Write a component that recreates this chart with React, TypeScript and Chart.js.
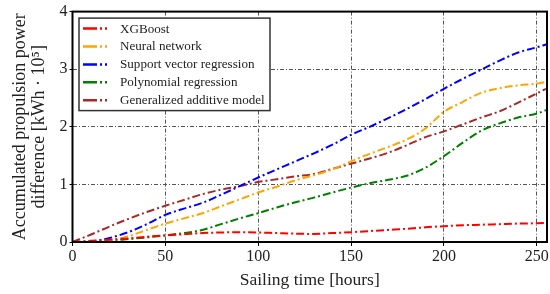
import { useEffect, useRef } from 'react';
import { Chart, registerables } from 'chart.js';

Chart.register(...registerables);

const hours = [0, 10, 20, 30, 40, 50, 60, 70, 80, 90, 100, 110, 120, 130, 140, 150, 160, 170, 180, 190, 200, 210, 220, 230, 240, 250, 255];

const xgboost = [0, 0.02, 0.04, 0.06, 0.09, 0.115, 0.135, 0.155, 0.165, 0.17, 0.165, 0.155, 0.145, 0.14, 0.155, 0.17, 0.19, 0.21, 0.23, 0.255, 0.275, 0.29, 0.3, 0.31, 0.32, 0.325, 0.33];
const neuralNetwork = [0, 0.005, 0.025, 0.1, 0.21, 0.32, 0.41, 0.5, 0.62, 0.74, 0.86, 0.96, 1.07, 1.16, 1.26, 1.4, 1.53, 1.65, 1.78, 1.97, 2.26, 2.43, 2.59, 2.67, 2.72, 2.75, 2.78];
const svr = [0, 0.01, 0.07, 0.17, 0.31, 0.47, 0.58, 0.68, 0.82, 0.97, 1.12, 1.26, 1.4, 1.54, 1.69, 1.86, 2.0, 2.15, 2.31, 2.48, 2.66, 2.83, 2.99, 3.15, 3.29, 3.38, 3.43];
const polynomial = [0, 0, 0.02, 0.05, 0.08, 0.115, 0.155, 0.21, 0.31, 0.41, 0.5, 0.6, 0.69, 0.77, 0.86, 0.945, 1.02, 1.08, 1.15, 1.29, 1.49, 1.72, 1.93, 2.06, 2.16, 2.23, 2.29];
const gam = [0, 0.13, 0.27, 0.4, 0.52, 0.63, 0.73, 0.83, 0.91, 0.97, 1.04, 1.09, 1.14, 1.18, 1.27, 1.36, 1.45, 1.55, 1.68, 1.82, 1.92, 2.04, 2.16, 2.27, 2.42, 2.58, 2.66];

const seriesNames = ['XGBoost', 'Neural network', 'Support vector regression', 'Polynomial regression', 'Generalized additive model'];
const seriesValues = [xgboost, neuralNetwork, svr, polynomial, gam];
const seriesColors = ['#ff0000', '#ffa500', '#0000ff', '#008000', '#a52a2a'];

const xTicks = [0, 50, 100, 150, 200, 250];
const yTicks = [0, 1, 2, 3, 4];

const FONT = "'Liberation Serif', 'Times New Roman', serif";

const frameLegendPlugin = {
  id: 'frameLegend',
  afterDatasetsDraw(chart: any) {
    const { ctx, chartArea } = chart;
    ctx.save();
    ctx.strokeStyle = '#000';
    ctx.lineWidth = 2;
    ctx.setLineDash([]);
    ctx.strokeRect(chartArea.left, chartArea.top, chartArea.right - chartArea.left, chartArea.bottom - chartArea.top);
    const x0 = chartArea.left + 6.5;
    const y0 = chartArea.top + 6.5;
    const w = 191;
    const h = 92.5;
    ctx.fillStyle = '#ffffff';
    ctx.fillRect(x0, y0, w, h);
    ctx.strokeStyle = '#333';
    ctx.lineWidth = 1.5;
    ctx.strokeRect(x0, y0, w, h);
    ctx.font = `13.1px ${FONT}`;
    ctx.textBaseline = 'middle';
    ctx.textAlign = 'left';
    chart.data.datasets.forEach((ds: any, i: number) => {
      const y = y0 + 10.5 + i * 17.9;
      ctx.strokeStyle = ds.borderColor;
      ctx.lineWidth = 2.5;
      ctx.setLineDash([14, 3, 2, 3, 2, 100]);
      ctx.beginPath();
      ctx.moveTo(x0 + 4, y);
      ctx.lineTo(x0 + 28, y);
      ctx.stroke();
      ctx.setLineDash([]);
      ctx.fillStyle = '#222';
      ctx.fillText(ds.label, x0 + 41, y + 0.5);
    });
    ctx.restore();
  },
};

export default function App() {
  const canvasRef = useRef<HTMLCanvasElement | null>(null);

  useEffect(() => {
    if (!canvasRef.current) return;
    const chart = new Chart(canvasRef.current, {
      type: 'line',
      data: {
        datasets: seriesNames.map((name, i) => ({
          label: name,
          data: hours.map((h, j) => ({ x: h, y: seriesValues[i][j] })),
          borderColor: seriesColors[i],
          backgroundColor: seriesColors[i],
          borderWidth: 2,
          borderDash: [8, 3, 2, 3],
          pointRadius: 0,
          cubicInterpolationMode: 'monotone',
          fill: false,
        })),
      },
      options: {
        animation: false,
        responsive: true,
        maintainAspectRatio: false,
        layout: { padding: { top: 9, right: 3, left: 0, bottom: 0 } },
        plugins: {
          legend: { display: false },
          tooltip: { enabled: false },
        },
        scales: {
          x: {
            type: 'linear',
            min: 0,
            max: 255.5,
            afterBuildTicks: (scale: any) => {
              scale.ticks = xTicks.map((v) => ({ value: v }));
            },
            afterFit: (scale: any) => {
              scale.height = 52;
            },
            ticks: {
              font: { family: FONT, size: 16 },
              color: '#222',
              padding: 1,
              maxRotation: 0,
            },
            grid: {
              color: '#555',
              lineWidth: 1,
              tickLength: 4,
              tickColor: '#000',
            },
            border: { display: false, dash: [4, 2, 1, 2] },
            title: {
              display: true,
              text: 'Sailing time [hours]',
              font: { family: FONT, size: 17.5 },
              color: '#222',
              padding: { top: 0, bottom: 3 },
            },
          },
          y: {
            type: 'linear',
            min: 0,
            max: 4,
            afterBuildTicks: (scale: any) => {
              scale.ticks = yTicks.map((v) => ({ value: v }));
            },
            afterFit: (scale: any) => {
              scale.width = 72.5;
            },
            ticks: {
              font: { family: FONT, size: 16 },
              color: '#222',
              padding: 2,
            },
            grid: {
              color: '#555',
              lineWidth: 1,
              tickLength: 3,
              tickColor: '#000',
            },
            border: { display: false, dash: [4, 2, 1, 2] },
            title: {
              display: true,
              text: ['Accumulated propulsion power', 'difference [kWh · 10⁵]'],
              font: { family: FONT, size: 18, lineHeight: 1.1 },
              color: '#222',
              padding: { top: 10, bottom: 0 },
            },
          },
        },
      },
      plugins: [frameLegendPlugin],
    });
    return () => chart.destroy();
  }, []);

  return (
    <div style={{ position: 'fixed', left: 0, top: 0, width: 550, height: 294, background: '#fff' }}>
      <canvas ref={canvasRef} />
    </div>
  );
}
